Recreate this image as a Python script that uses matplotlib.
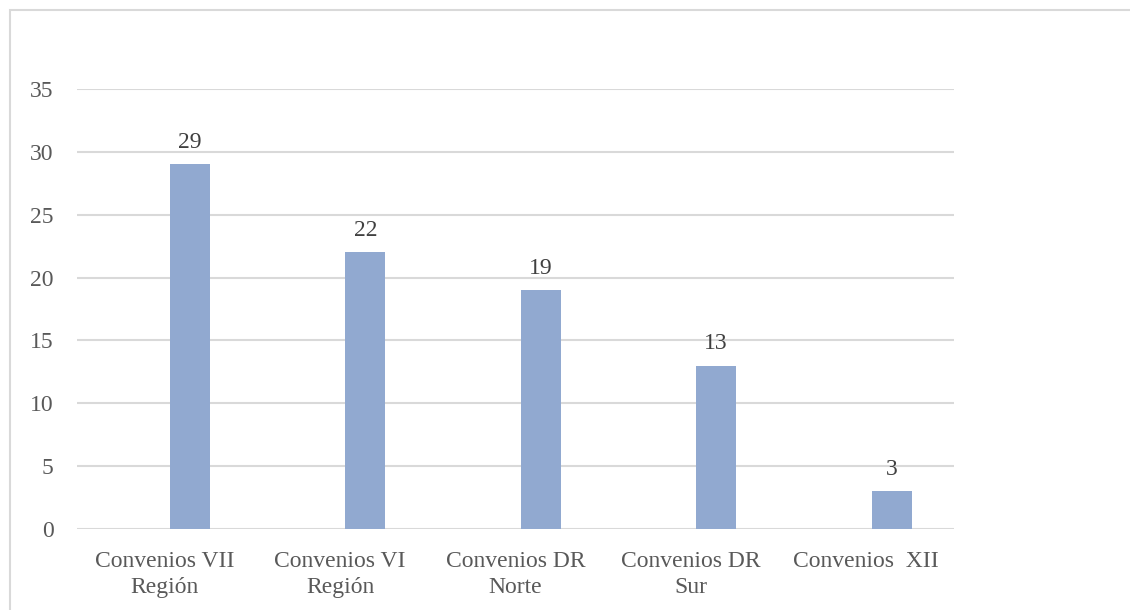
import matplotlib.pyplot as plt
from matplotlib.patches import Rectangle

categories = ["Convenios VII\nRegión", "Convenios VI\nRegión", "Convenios DR\nNorte",
              "Convenios DR\nSur", "Convenios  XII"]
values = [29, 22, 19, 13, 3]
yticks = [0, 5, 10, 15, 20, 25, 30, 35]

plt.rcParams['font.family'] = ['Liberation Serif', 'DejaVu Serif']

fig = plt.figure(figsize=(11.3, 6.1), dpi=100)

# light frame round the chart, cut off at right and bottom like the source
fig.patches.append(Rectangle((10 / 1130, -0.1), 1.2, (600 / 610) + 0.1,
                             transform=fig.transFigure, fill=False,
                             edgecolor="#D9D9D9", linewidth=1.5))

ax = fig.add_axes([77 / 1130, 81 / 610, 877 / 1130, 440 / 610])

x = list(range(len(categories)))
offset = 0.144   # bars sit right of the category centre (empty 1st series)
bars = ax.bar([i + offset for i in x], values, width=0.228, color="#91A9D0")
ax.bar_label(bars, labels=[str(v) for v in values], padding=8,
             fontsize=17, color="#404040")

ax.set_xlim(-0.5, len(categories) - 0.5)
ax.set_ylim(0, 35)
ax.set_yticks(yticks)
ax.set_xticks(x)
ax.set_xticklabels(categories, linespacing=1.27)

ax.yaxis.grid(True, color="#D9D9D9", linewidth=1.5)
ax.set_axisbelow(True)
for s in ax.spines.values():
    s.set_visible(False)
ax.tick_params(axis="both", length=0, labelsize=17, labelcolor="#595959")
ax.tick_params(axis="y", pad=17)
ax.tick_params(axis="x", pad=16)

fig.savefig("out.png", dpi=100)
